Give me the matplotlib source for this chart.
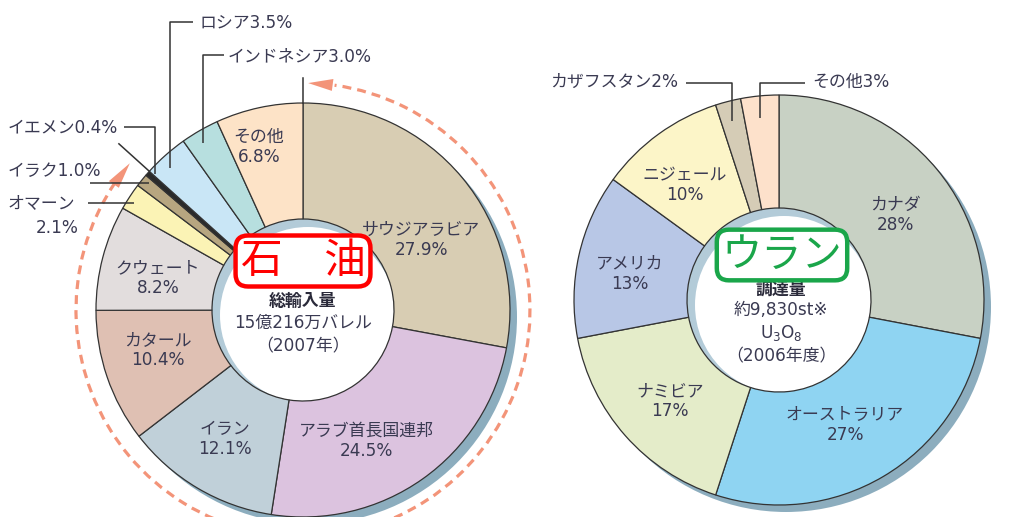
import numpy as np
import matplotlib
matplotlib.use("Agg")
import matplotlib.pyplot as plt
from matplotlib.patches import Circle, Arc, Polygon

plt.rcParams['font.family'] = ['DejaVu Sans', 'Noto Sans CJK JP']
CJK = ['Noto Sans CJK JP', 'DejaVu Sans']

# ---------------- data ----------------
oil_names = ["サウジアラビア", "アラブ首長国連邦", "イラン", "カタール", "クウェート",
             "オマーン", "イラク", "イエメン", "ロシア", "インドネシア", "その他"]
oil_values = [27.9, 24.5, 12.1, 10.4, 8.2, 2.1, 1.0, 0.4, 3.5, 3.0, 6.8]
oil_middle_east = 8  # first 8 countries are Middle East
oil_center_text = ["総輸入量", "15億216万バレル", "（2007年）"]

uran_names = ["カナダ", "オーストラリア", "ナミビア", "アメリカ", "ニジェール",
              "カザフスタン", "その他"]
uran_values = [28, 27, 17, 13, 10, 2, 3]
uran_center_text = ["調達量", "約9,830st※", "U$_3$O$_8$", "（2006年度）"]

# ---------------- style ----------------
oil_colors = ["#d8cdb3", "#dcc3df", "#c0d0d9", "#dfc0b3", "#e2dddd", "#fbf3b5",
              "#b7a680", "#2a2a2a", "#c9e6f6", "#b7dfdf", "#fde3c7"]
uran_colors = ["#c8d1c4", "#8fd4f2", "#e4ecc9", "#b8c7e6", "#fcf5c8", "#d5ccb6", "#fde1cb"]
TXT = "#3a3a52"
FS = 12.2
H = 517

fig = plt.figure(figsize=(10.24, 5.17), dpi=100)
ax = fig.add_axes([0, 0, 1, 1])


def Y(p):
    return H - p


def donut(cx, cy, R, r, values, colors):
    ax.add_patch(Circle((cx + 7, Y(cy + 7)), R, color="#8cadbe", zorder=0.2, lw=0))
    ax.add_patch(Circle((cx, Y(cy)), r, color="#b3cbd8", zorder=0.4, lw=0))
    ax.add_patch(Circle((cx + 5, Y(cy + 5)), r - 3, color="white", zorder=0.5, lw=0))
    wedges, _ = ax.pie(values, colors=colors, startangle=90, counterclock=False,
                       radius=R, center=(cx, Y(cy)), frame=True,
                       wedgeprops=dict(width=R - r, edgecolor="#333333", linewidth=0.9))
    for w in wedges:
        w.set_zorder(1)
    return wedges


def seg(pts):
    ax.plot([p[0] for p in pts], [Y(p[1]) for p in pts], color="#333333", lw=1.1,
            zorder=4, solid_capstyle="butt")


def label(x, y, s, ha="center"):
    ax.text(x, Y(y), s, ha=ha, va="center", fontsize=FS, color=TXT, linespacing=1.15,
            zorder=5)


# ---------------- oil donut ----------------
ocx, ocy, oR, orr = 303, 310, 207, 91
donut(ocx, ocy, oR, orr, oil_values, oil_colors)

oil_label_pos = {
    0: (421, 240), 1: (366, 441), 2: (225, 439), 3: (158, 350), 4: (158, 278), 10: (259, 147),
}
for i, (x, y) in oil_label_pos.items():
    label(x, y, f"{oil_names[i]}\n{oil_values[i]:.1f}%")

label(200, 22, f"{oil_names[8]}{oil_values[8]:.1f}%", ha="left")
seg([(193, 22), (170, 22), (170, 168)])
label(228, 56, f"{oil_names[9]}{oil_values[9]:.1f}%", ha="left")
seg([(224, 55), (203, 55), (203, 143)])
label(8, 127, f"{oil_names[7]}{oil_values[7]:.1f}%", ha="left")
seg([(124, 127), (155, 127), (155, 174)])
label(8, 171, f"{oil_names[6]}{oil_values[6]:.1f}%", ha="left")
seg([(90, 183), (149, 183)])
label(8, 203, f"{oil_names[5]}", ha="left")
label(57, 228, f"{oil_values[5]:.1f}%")
seg([(88, 203), (134, 203)])

# Middle East markers: radial lines and dashed double arrow arc
me_share = sum(oil_values[:oil_middle_east]) / sum(oil_values)
a_start = 90.0
a_end = 90.0 - 360.0 * me_share  # clockwise end
for ang, rr0, rr1 in [(a_start, oR, 232), (a_end, oR, 248)]:
    t = np.radians(ang)
    ax.plot([ocx + rr0 * np.cos(t), ocx + rr1 * np.cos(t)],
            [Y(ocy) + rr0 * np.sin(t), Y(ocy) + rr1 * np.sin(t)],
            color="#333333", lw=1.1, zorder=4)

RA = 227
ARC_C = "#f39479"
ax.add_patch(Arc((ocx, Y(ocy)), 2 * RA, 2 * RA, theta1=a_end + 8.0, theta2=a_start - 8.0,
                 color=ARC_C, lw=2.3, linestyle=(0, (2.8, 1.9)), zorder=3))


def arrow_head(tip_ang, base_ang):
    tt, tb = np.radians(tip_ang), np.radians(base_ang)
    tip = (ocx + RA * np.cos(tt), Y(ocy) + RA * np.sin(tt))
    b1 = (ocx + (RA - 6) * np.cos(tb), Y(ocy) + (RA - 6) * np.sin(tb))
    b2 = (ocx + (RA + 6) * np.cos(tb), Y(ocy) + (RA + 6) * np.sin(tb))
    ax.add_patch(Polygon([tip, b1, b2], closed=True, color=ARC_C, lw=0, zorder=3))


arrow_head(a_start - 1.3, a_start - 7.5)
arrow_head(a_end + 1.8, a_end + 8.5)

ax.text(ocx, Y(301), oil_center_text[0], ha="center", va="center", fontsize=FS,
        color="#2a2a3a", fontweight="bold", zorder=5)
label(ocx, 323, oil_center_text[1])
label(ocx, 346, oil_center_text[2])

ax.text(303, Y(261), "石　油", ha="center", va="center", fontsize=30, color="#ff0000",
        family=CJK, zorder=7,
        bbox=dict(boxstyle="round,pad=0.12,rounding_size=0.3", fc="white", ec="#ff0000", lw=3.2))

# ---------------- uranium donut ----------------
ucx, ucy, uR, ur = 779, 300, 205, 92
donut(ucx, ucy, uR, ur, uran_values, uran_colors)

uran_label_pos = {0: (895, 215), 1: (845, 425), 2: (670, 401), 3: (630, 274), 4: (685, 185)}
for i, (x, y) in uran_label_pos.items():
    label(x, y, f"{uran_names[i]}\n{uran_values[i]}%")

label(550, 82, f"{uran_names[5]}{uran_values[5]}%", ha="left")
seg([(686, 83), (732, 83), (732, 121)])
label(812, 82, f"{uran_names[6]}{uran_values[6]}%", ha="left")
seg([(805, 83), (760, 83), (760, 118)])

ax.text(ucx + 2, Y(290), uran_center_text[0], ha="center", va="center", fontsize=FS,
        color="#2a2a3a", fontweight="bold", zorder=5)
label(ucx + 2, 310, uran_center_text[1])
label(ucx + 2, 333, uran_center_text[2])
label(ucx + 2, 356, uran_center_text[3])

ax.text(782, Y(255), "ウラン", ha="center", va="center", fontsize=29, color="#1aa64a",
        family=CJK, zorder=7,
        bbox=dict(boxstyle="round,pad=0.12,rounding_size=0.3", fc="white", ec="#1aa64a", lw=3.2))

ax.set_xlim(0, 1024)
ax.set_ylim(0, H)
ax.set_aspect("equal")
ax.axis("off")
fig.savefig("out.png", dpi=100, facecolor="white")
